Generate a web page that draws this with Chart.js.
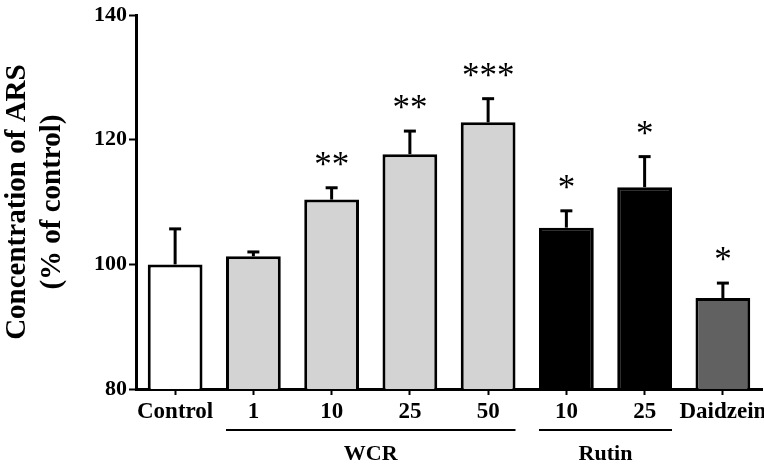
<!DOCTYPE html>
<html>
<head>
<meta charset="utf-8">
<script src="https://cdn.jsdelivr.net/npm/chart.js@4/dist/chart.umd.min.js"></script>
<style>
html,body{margin:0;padding:0;background:#fff;}
#wrap{width:764px;height:466px;position:relative;}
</style>
</head>
<body>
<div id="wrap"><canvas id="c" width="764" height="466"></canvas></div>
<script>
const categories = ['Control', '1', '10', '25', '50', '10', '25', 'Daidzein'];
const values = [100, 101.3, 110.4, 117.7, 122.8, 105.9, 112.4, 94.6];
const errors = [5.7, 0.7, 1.9, 3.7, 3.8, 2.7, 4.9, 2.4];
const stars = ['', '', '**', '**', '***', '*', '*', '*'];
const barColors = ['#ffffff', '#d3d3d3', '#d3d3d3', '#d3d3d3', '#d3d3d3', '#000000', '#000000', '#616161'];
const groups = [
  { label: 'WCR', from: 1, to: 4 },
  { label: 'Rutin', from: 5, to: 6 }
];
const yTicks = [80, 100, 120, 140];

const FONT = "'Liberation Serif', 'Times New Roman', serif";

const annot = {
  id: 'annot',
  afterDatasetsDraw(chart) {
    const ctx = chart.ctx;
    const meta = chart.getDatasetMeta(0);
    const y = chart.scales.y;
    ctx.save();
    meta.data.forEach((bar, i) => {
      const top = y.getPixelForValue(values[i] + errors[i]);
      const base = bar.y;
      ctx.strokeStyle = '#000';
      ctx.lineWidth = 3;
      ctx.beginPath();
      ctx.moveTo(bar.x, base);
      ctx.lineTo(bar.x, top);
      ctx.stroke();
      ctx.beginPath();
      ctx.moveTo(bar.x - 6, top);
      ctx.lineTo(bar.x + 6, top);
      ctx.stroke();
      if (stars[i]) {
        ctx.fillStyle = '#000';
        ctx.font = '35px ' + FONT;
        ctx.textAlign = 'center';
        ctx.textBaseline = 'alphabetic';
        ctx.fillText(stars[i], bar.x, top - 29 + 17);
      }
    });
    // group lines
    const x = chart.scales.x;
    const half = (x.getPixelForValue(1) - x.getPixelForValue(0)) * 0.35;
    groups.forEach(g => {
      const x0 = x.getPixelForValue(g.from) - half;
      const x1 = x.getPixelForValue(g.to) + half;
      ctx.strokeStyle = '#000';
      ctx.lineWidth = 2;
      ctx.beginPath();
      ctx.moveTo(x0, 430);
      ctx.lineTo(x1, 430);
      ctx.stroke();
      ctx.fillStyle = '#000';
      ctx.font = 'bold 22px ' + FONT;
      ctx.textAlign = 'center';
      ctx.textBaseline = 'middle';
      ctx.fillText(g.label, (x0 + x1) / 2, 454);
    });
    ctx.restore();
  }
};

new Chart(document.getElementById('c'), {
  type: 'bar',
  data: {
    labels: categories,
    datasets: [{
      data: values,
      backgroundColor: barColors,
      borderColor: '#000',
      borderWidth: 3,
      borderSkipped: false,
      categoryPercentage: 1,
      barPercentage: 0.70
    }]
  },
  options: {
    responsive: false,
    animation: false,
    devicePixelRatio: 1,
    layout: { padding: { top: 15, right: 2, left: 0, bottom: 0 } },
    plugins: { legend: { display: false }, tooltip: { enabled: false } },
    scales: {
      x: {
        grid: { display: true, drawOnChartArea: false, offset: false, drawTicks: true, tickLength: 6, tickWidth: 2, tickColor: '#000' },
        border: { display: true, color: '#000', width: 3 },
        ticks: { color: '#000', font: { family: FONT, size: 23, weight: 'bold' }, padding: 3, maxRotation: 0, autoSkip: false },
        afterFit(s) { s.height = 77; s.paddingLeft = 0; s.paddingRight = 0; }
      },
      y: {
        min: 80, max: 140,
        afterBuildTicks(s) { s.ticks = yTicks.map(v => ({ value: v })); },
        grid: { display: true, drawOnChartArea: false, drawTicks: true, tickLength: 7, tickWidth: 2, tickColor: '#000' },
        border: { display: true, color: '#000', width: 3 },
        ticks: { color: '#000', font: { family: FONT, size: 22, weight: 'bold' }, padding: 2 },
        title: {
          display: true,
          text: ['Concentration of ARS', '(% of control)'],
          color: '#000',
          font: { family: FONT, size: 29, weight: 'bold', lineHeight: '35px' },
          padding: 0
        },
        afterFit(s) { s.width = 136; }
      }
    }
  },
  plugins: [annot]
});
</script>
</body>
</html>
